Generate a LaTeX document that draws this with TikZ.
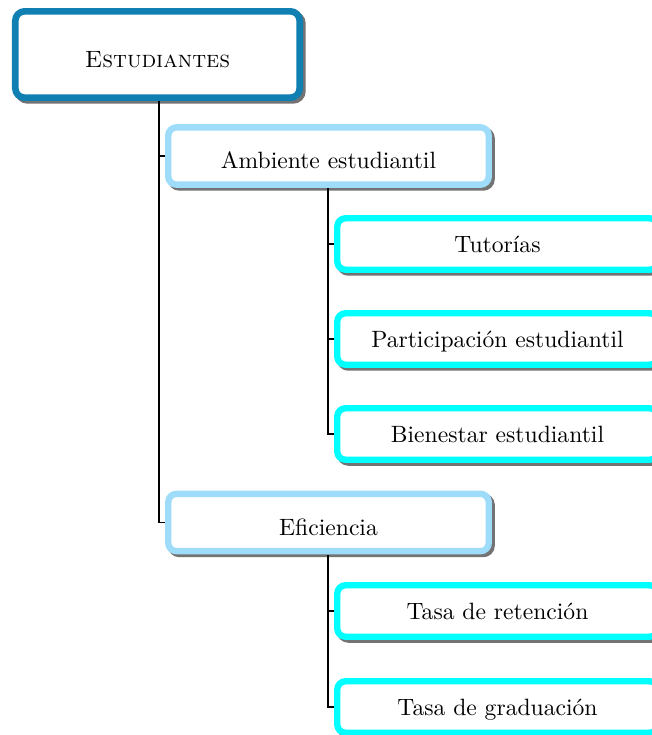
\documentclass[tikz,border=0pt]{standalone}
\usepackage{tikz}
\usetikzlibrary{shadows}

\definecolor{rootblue}{RGB}{16,127,178}
\definecolor{groupblue}{RGB}{158,220,250}
\definecolor{itemcyan}{RGB}{0,255,255}

\begin{document}
\begin{tikzpicture}[x=0.4237pt, y=-0.4237pt,
  boxshadow/.style={drop shadow={shadow xshift=1.2pt, shadow yshift=-1.2pt, fill=black!55, draw=black!55, line width=2.7pt, opacity=1}},
  rootbox/.style={draw=rootblue, line width=2.8pt, fill=white, rounded corners=4pt, boxshadow,
    minimum width=120.5pt, minimum height=36.6pt, text height=10.8pt, text depth=0pt},
  groupbox/.style={draw=groupblue, line width=2.7pt, fill=white, rounded corners=3.5pt, boxshadow,
    minimum width=135.8pt, minimum height=24.3pt, text height=10.8pt, text depth=0pt},
  itembox/.style={draw=itemcyan, line width=2.7pt, fill=white, rounded corners=3.5pt, boxshadow,
    minimum width=135.8pt, minimum height=21.8pt, text height=7pt, text depth=0pt},
  link/.style={draw=black, line width=0.8pt}]

\useasboundingbox (0,0) rectangle (652,735);

% Feet of the vertical links
\coordinate (rootfoot) at (159,101);
\coordinate (ambfoot) at (328,188);
\coordinate (efifoot) at (328,555);

% Root box
\node[rootbox] (root) at (157.5,54.5) {\textsc{Estudiantes}};

% Group boxes
\node[groupbox] (amb) at (328.5,156) {Ambiente estudiantil};
\node[groupbox] (efi) at (328.5,522.5) {Eficiencia};

% Item boxes
\node[itembox] (tut) at (497.5,244) {Tutorías};
\node[itembox] (par) at (497.5,339) {Participación estudiantil};
\node[itembox] (bie) at (497.5,434) {Bienestar estudiantil};
\node[itembox] (ret) at (497.5,611) {Tasa de retención};
\node[itembox] (gra) at (497.5,707) {Tasa de graduación};

% Links from root
\draw[link] (rootfoot) |- (amb.west);
\draw[link] (rootfoot) |- (efi.west);

% Links from groups
\draw[link] (ambfoot) |- (tut.west);
\draw[link] (ambfoot) |- (par.west);
\draw[link] (ambfoot) |- (bie.west);
\draw[link] (efifoot) |- (ret.west);
\draw[link] (efifoot) |- (gra.west);

\end{tikzpicture}
\end{document}
